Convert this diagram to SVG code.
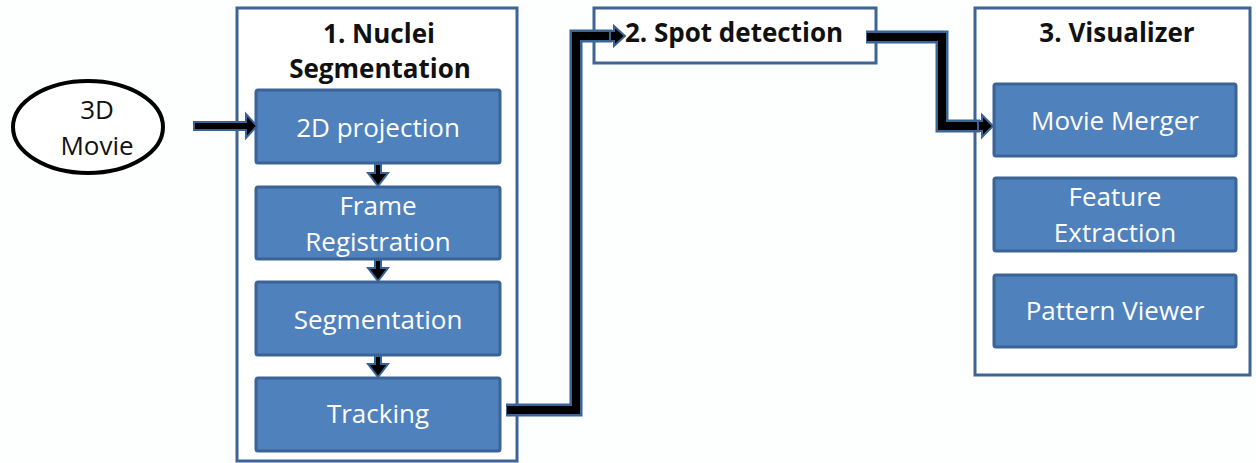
<svg xmlns="http://www.w3.org/2000/svg" width="1256" height="463" viewBox="0 0 1256 463">
<style>
.cont{fill:#ffffff;stroke:#3d6494;stroke-width:3}
.box{fill:#4f81bd;stroke:#3a6396;stroke-width:3}
.wt{font-family:"Open Sans","Liberation Sans",sans-serif;font-size:26px;fill:#ffffff;text-anchor:middle}
.bt{font-family:"Open Sans","Liberation Sans",sans-serif;font-size:26px;font-weight:bold;fill:#111111;text-anchor:middle}
.nt{font-family:"Open Sans","Liberation Sans",sans-serif;font-size:26px;fill:#111111;text-anchor:middle}
.arr{fill:#000000;stroke:#3a6396;stroke-width:2;stroke-linejoin:miter}
.lo{fill:none;stroke:#3a6396;stroke-width:13;stroke-linejoin:miter}
.li{fill:none;stroke:#000000;stroke-width:8;stroke-linejoin:miter}
</style>
<rect width="1256" height="463" fill="#fdfefe"/>
<g id="movie">
<ellipse cx="88" cy="127" rx="75" ry="46" fill="#ffffff" stroke="#000000" stroke-width="4"/>
<text class="nt" x="97" y="119">3D</text>
<text class="nt" x="97" y="155">Movie</text>
</g>
<g id="nuclei">
<rect class="cont" x="237" y="8" width="280" height="453"/>
<text class="bt" x="379" y="43">1. Nuclei</text>
<text class="bt" x="380" y="78">Segmentation</text>
</g>
<g id="proj"><rect class="box" x="256" y="90" width="244" height="73" rx="2"/><text class="wt" x="378" y="137">2D projection</text></g>
<g id="frame"><rect class="box" x="256" y="187" width="244" height="72" rx="2"/><text class="wt" x="378" y="215">Frame</text><text class="wt" x="378" y="251">Registration</text></g>
<g id="seg"><rect class="box" x="256" y="282" width="244" height="73" rx="2"/><text class="wt" x="378" y="329">Segmentation</text></g>
<g id="track"><rect class="box" x="256" y="378" width="244" height="73" rx="2"/><text class="wt" x="378" y="423">Tracking</text></g>
<g id="spot">
<rect class="cont" x="594" y="8" width="282" height="55"/>
<text class="bt" x="734" y="42">2. Spot detection</text>
</g>
<g id="vis">
<rect class="cont" x="975" y="8" width="275" height="367"/>
<text class="bt" x="1117" y="42">3. Visualizer</text>
</g>
<g id="merger"><rect class="box" x="994" y="84" width="242" height="72" rx="2"/><text class="wt" x="1115" y="130">Movie Merger</text></g>
<g id="feature"><rect class="box" x="994" y="178" width="242" height="73" rx="2"/><text class="wt" x="1115" y="206">Feature</text><text class="wt" x="1115" y="242">Extraction</text></g>
<g id="pattern"><rect class="box" x="994" y="275" width="242" height="72" rx="2"/><text class="wt" x="1115" y="320">Pattern Viewer</text></g>
<g id="connectors">
<polygon class="arr" points="194,122 246,122 246,114 257,126 246,138 246,130 194,130"/>
<polygon class="arr" points="375,164 381,164 381,173 388,173 378,186 368,173 375,173"/>
<polygon class="arr" points="375,260 381,260 381,268 388,268 378,281 368,268 375,268"/>
<polygon class="arr" points="375,356 381,356 381,364 388,364 378,377 368,364 375,364"/>
<polyline class="lo" points="506,410 576,410 576,36 612,36"/>
<polyline class="li" points="507,410 576,410 576,36 612,36"/>
<polygon class="arr" points="610,31 614,31 614,26 625,36 614,46 614,41 610,41"/>
<polyline class="lo" points="866,37 942,37 942,126 980,126"/>
<polyline class="li" points="867,37 942,37 942,126 980,126"/>
<polygon class="arr" points="978,121 982,121 982,115 993,126 982,137 982,131 978,131"/>
</g>
</svg>
